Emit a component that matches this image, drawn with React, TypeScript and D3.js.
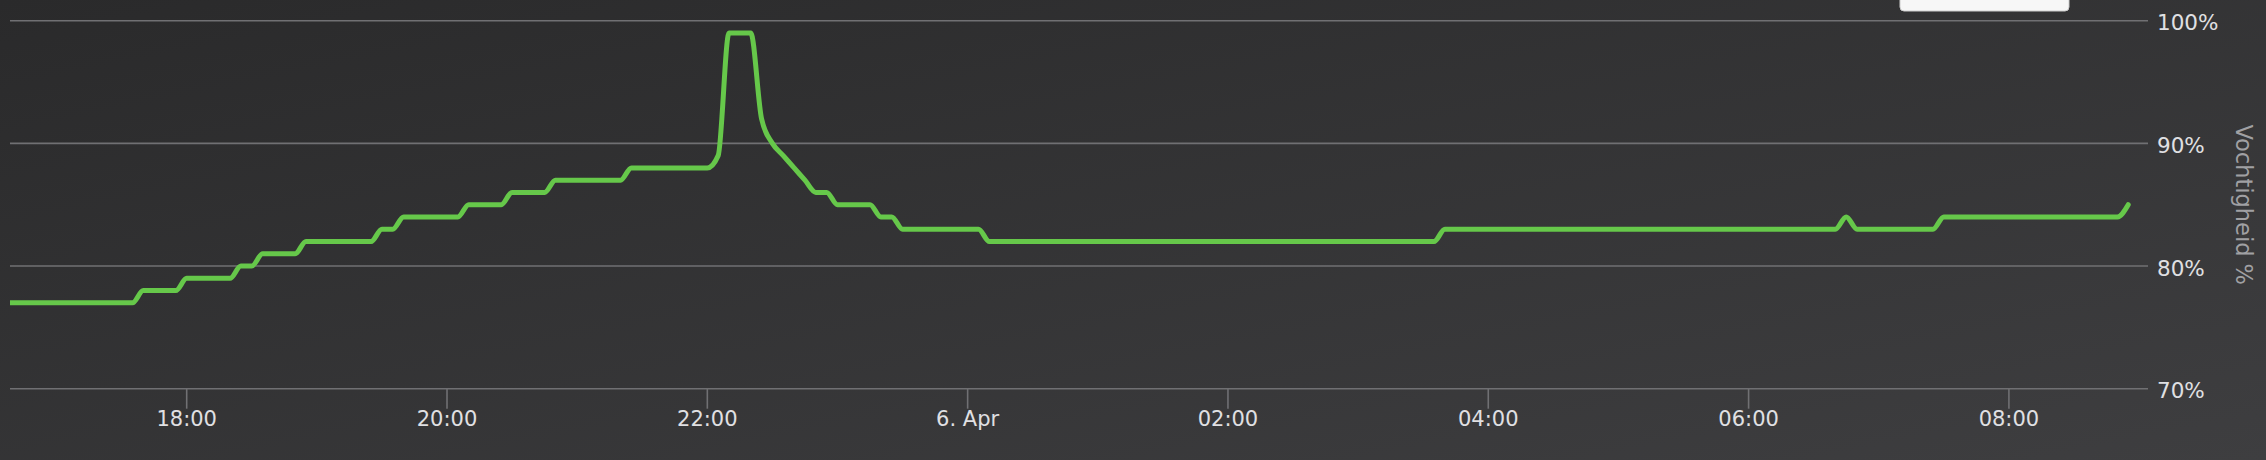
import React, { useEffect } from "react";
import * as d3 from "d3";

// ---- data ----
const times: string[] = [
  "2017-04-05T16:30", "2017-04-05T17:35", "2017-04-05T17:40", "2017-04-05T17:55",
  "2017-04-05T18:00", "2017-04-05T18:20", "2017-04-05T18:25", "2017-04-05T18:30",
  "2017-04-05T18:35", "2017-04-05T18:50", "2017-04-05T18:55", "2017-04-05T19:25",
  "2017-04-05T19:30", "2017-04-05T19:35", "2017-04-05T19:40", "2017-04-05T20:05",
  "2017-04-05T20:10", "2017-04-05T20:25", "2017-04-05T20:30", "2017-04-05T20:45",
  "2017-04-05T20:50", "2017-04-05T21:20", "2017-04-05T21:25", "2017-04-05T22:00",
  "2017-04-05T22:05", "2017-04-05T22:10", "2017-04-05T22:20", "2017-04-05T22:25",
  "2017-04-05T22:30", "2017-04-05T22:35", "2017-04-05T22:40", "2017-04-05T22:45",
  "2017-04-05T22:50", "2017-04-05T22:55", "2017-04-05T23:00", "2017-04-05T23:15",
  "2017-04-05T23:20", "2017-04-05T23:25", "2017-04-05T23:30", "2017-04-06T00:05",
  "2017-04-06T00:10", "2017-04-06T03:35", "2017-04-06T03:40", "2017-04-06T06:40",
  "2017-04-06T06:45", "2017-04-06T06:50", "2017-04-06T07:25", "2017-04-06T07:30",
  "2017-04-06T08:50", "2017-04-06T08:55",
];
const humidity: number[] = [
  77, 77, 78, 78,
  79, 79, 80, 80,
  81, 81, 82, 82,
  83, 83, 84, 84,
  85, 85, 86, 86,
  87, 87, 88, 88,
  89, 99, 99, 92,
  90, 89, 88, 87,
  86, 86, 85, 85,
  84, 84, 83, 83,
  82, 82, 83, 83,
  84, 83, 83, 84,
  84, 85,
];
const xDomain: string[] = ["2017-04-05T16:38:33", "2017-04-06T09:04:07"];
const xTickTimes: string[] = [
  "2017-04-05T18:00", "2017-04-05T20:00", "2017-04-05T22:00", "2017-04-06T00:00",
  "2017-04-06T02:00", "2017-04-06T04:00", "2017-04-06T06:00", "2017-04-06T08:00",
];
const xTickLabels: string[] = ["18:00", "20:00", "22:00", "6. Apr", "02:00", "04:00", "06:00", "08:00"];
const yTicks: number[] = [70, 80, 90, 100];
const yTickLabels: string[] = ["70%", "80%", "90%", "100%"];
const yTitle = "Vochtigheid %";

const W = 2266;
const H = 460;
const FONT = "'DejaVu Sans', sans-serif";

export default function App() {
  useEffect(() => {
    document.body.style.margin = "0";
    document.body.style.overflow = "hidden";
  }, []);

  const plotLeft = 10;
  const plotRight = 2148;
  const plotTop = 20.7;
  const plotBottom = 388.7;

  const x = d3
    .scaleTime()
    .domain(xDomain.map((s) => new Date(s)))
    .range([plotLeft, plotRight]);
  const y = d3.scaleLinear().domain([70, 100]).range([plotBottom, plotTop]);

  const pts: [number, number][] = times.map((t, i) => [x(new Date(t)), y(humidity[i])]);
  const line = d3.line().curve(d3.curveMonotoneX)(pts) || "";

  return (
    <svg
      width={W}
      height={H}
      style={{ position: "absolute", left: 0, top: 0, display: "block" }}
      xmlns="http://www.w3.org/2000/svg"
    >
      <defs>
        <linearGradient id="bg" x1="0" y1="0" x2="1" y2="1">
          <stop offset="0" stopColor="#2a2a2b" />
          <stop offset="1" stopColor="#3e3e40" />
        </linearGradient>
        <clipPath id="plotclip">
          <rect x={plotLeft} y={0} width={plotRight - plotLeft} height={H} />
        </clipPath>
      </defs>
      <rect x={0} y={0} width={W} height={H} fill="url(#bg)" />

      {/* grid lines */}
      {yTicks.map((v) => (
        <line
          key={v}
          x1={plotLeft}
          x2={plotRight}
          y1={y(v)}
          y2={y(v)}
          stroke="#707073"
          strokeWidth={1.6}
        />
      ))}

      {/* y labels */}
      {yTicks.map((v, i) => (
        <text
          key={"yl" + v}
          x={2157}
          y={y(v) + 9.5}
          fill="#E0E0E3"
          fontFamily={FONT}
          fontSize={21.5}
          textAnchor="start"
        >
          {yTickLabels[i]}
        </text>
      ))}

      {/* y axis title */}
      <text
        transform={`translate(2236, ${(plotTop + plotBottom) / 2}) rotate(90)`}
        fill="#A0A0A3"
        fontFamily={FONT}
        fontSize={22.5}
        textAnchor="middle"
      >
        {yTitle}
      </text>

      {/* x ticks and labels */}
      {xTickTimes.map((t, i) => {
        const xp = x(new Date(t));
        return (
          <g key={t}>
            <line x1={xp} x2={xp} y1={plotBottom} y2={plotBottom + 20} stroke="#707073" strokeWidth={1.6} />
            <text
              x={xp}
              y={426}
              fill="#E0E0E3"
              fontFamily={FONT}
              fontSize={21}
              textAnchor="middle"
            >
              {xTickLabels[i]}
            </text>
          </g>
        );
      })}

      {/* series */}
      <g clipPath="url(#plotclip)">
        <path d={line} fill="none" stroke="#66c84a" strokeWidth={5} strokeLinejoin="round" strokeLinecap="round" />
      </g>

      {/* top box (partially visible) */}
      <rect x={1900} y={-12} width={169} height={23} rx={4} ry={4} fill="#f7f7f7" stroke="#cccccc" strokeWidth={1} />
    </svg>
  );
}
